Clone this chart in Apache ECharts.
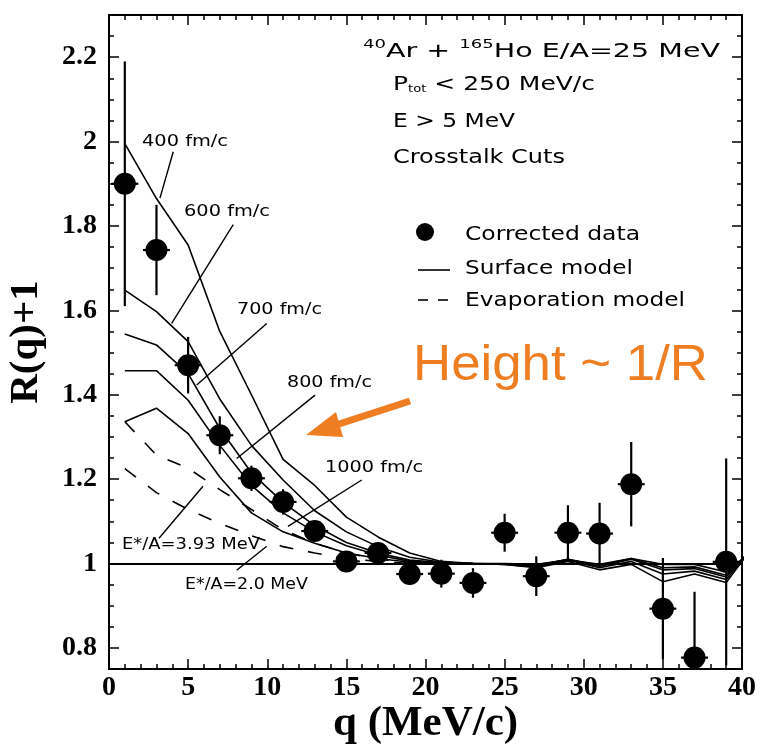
<!DOCTYPE html>
<html><head><meta charset="utf-8">
<script src="https://cdn.jsdelivr.net/npm/echarts@6/dist/echarts.min.js"></script>
<style>html,body{margin:0;padding:0;background:#fff}#c{width:761px;height:746px}</style>
</head><body><div id="c"></div>
<script>
// ---------------- data ----------------
const dataQ   = [1,3,5,7,9,11,13,15,17,19,21,23,25,27,29,31,33,35,37,39];
const dataR   = [1.90,1.743,1.47,1.304,1.202,1.146,1.077,1.005,1.025,0.975,0.976,0.954,1.073,0.970,1.073,1.071,1.188,0.893,0.777,1.004];
const dataErr = [0.29,0.107,0.067,0.045,0.03,0.03,0.02,0.02,0.02,0.025,0.033,0.035,0.045,0.047,0.065,0.073,0.10,0.12,0.156,0.245];
const qHalfBin = 0.85;

const curveQ = [1,3,5,7,9,11,13,15,17,19,21,23,25,27,29,31,33,35,37,39,41];
const surf400  = [1.995,1.865,1.755,1.55,1.40,1.247,1.185,1.11,1.063,1.025,1.005,1.0,0.998,0.99,1.005,0.985,0.998,0.957,0.975,0.955,1.055];
const surf600  = [1.648,1.597,1.526,1.39,1.28,1.198,1.125,1.075,1.04,1.015,1.003,1.0,0.998,0.992,1.008,0.99,1.005,0.975,0.982,0.962,1.05];
const surf700  = [1.544,1.518,1.45,1.32,1.215,1.145,1.09,1.05,1.025,1.008,1.002,1.0,0.999,0.994,1.01,0.993,1.01,0.985,0.988,0.968,1.05];
const surf800  = [1.457,1.457,1.387,1.28,1.185,1.12,1.075,1.042,1.02,1.005,1.001,1.0,0.999,0.996,1.01,0.996,1.012,0.99,0.992,0.972,1.05];
const surf1000 = [1.336,1.368,1.308,1.205,1.12,1.075,1.048,1.025,1.012,1.003,1.0,1.0,1.0,0.998,1.008,0.998,1.012,0.998,0.998,0.98,1.04];

const evapQ   = [1,3,5,7,9,11,13,15,17,19,21];
const evap393 = [1.336,1.257,1.226,1.175,1.128,1.08,1.048,1.025,1.01,1.003,1.0];
const evap20  = [1.225,1.168,1.128,1.095,1.066,1.04,1.025,1.012,1.005,1.0,1.0];

const xTicks = [0,5,10,15,20,25,30,35,40];
const yTicks = [0.8,1,1.2,1.4,1.6,1.8,2,2.2];

// leader lines for curve labels, in data coordinates [q1,r1,q2,r2]
const leaders = [
  [4.06,1.976,3.22,1.866],
  [7.85,1.803,3.96,1.569],
  [9.97,1.569,5.54,1.423],
  [13.02,1.399,8.07,1.249],
  [15.97,1.198,11.31,1.088],
  [5.94,1.183,3.16,1.06],
  [9.97,1.041,8.07,0.984]
];

// ---------------- chart ----------------
const SERIF = "'Liberation Serif','Times New Roman',serif";
const SANS = "'DejaVu Sans',sans-serif";
const chart = echarts.init(document.getElementById('c'), null, {renderer:'canvas'});

const mctx = document.createElement('canvas').getContext('2d');
function mw(t, size, fam, weight){ mctx.font = (weight||'normal')+' '+size+'px '+fam; return mctx.measureText(t).width; }

function textRuns(runs, x, y, targetW, fam, color){
  fam = fam || SANS; color = color || '#000';
  let tot = 0; runs.forEach(r=>{ r.w = mw(r.t, r.size, fam); tot += r.w; });
  const s = targetW / tot;
  const out = []; let cx = x;
  runs.forEach(r=>{
    out.push({type:'text', x:cx, y:y + (r.dy||0), scaleX:s, silent:true, z:50,
      style:{text:r.t, fontSize:r.size, fontFamily:fam, fill:color, textAlign:'left', textVerticalAlign:'middle', verticalAlign:'middle'}});
    cx += r.w * s;
  });
  return out;
}
function txt(t, x, y, w, size, fam, color){ return textRuns([{t:t,size:size}], x, y, w, fam, color); }

const pair = (qs, vs) => qs.map((q,i)=>[q, vs[i]]);
const solid = {color:'#000', width:1.6, type:'solid'};
const dashed = {color:'#000', width:1.6, type:[14,15]};

function lineSeries(name, qs, vs, ls){
  return {name:name, type:'line', data:pair(qs, vs), symbol:'none', showSymbol:false, clip:true,
    lineStyle:ls, itemStyle:{color:'#000'}, z:3, silent:true};
}

const axisFont = {fontFamily:SERIF, fontWeight:'bold', fontSize:28, color:'#000'};

const option = {
  animation:false,
  backgroundColor:'#fff',
  grid:{left:109, right:19, top:15, bottom:77, outerBoundsMode:'none', containLabel:false},
  xAxis:[
    {type:'value', position:'bottom', min:0, max:40, interval:5,
     name:'q (MeV/c)', nameLocation:'middle', nameGap:33, nameMoveOverlap:false,
     nameTextStyle:{fontFamily:SERIF, fontWeight:'bold', fontSize:43, color:'#000'},
     axisLine:{show:true, lineStyle:{color:'#000', width:2}},
     axisTick:{show:true, inside:true, length:10, lineStyle:{color:'#000', width:1.5}},
     minorTick:{show:true, splitNumber:5, length:5, lineStyle:{color:'#000', width:1.5}},
     axisLabel:Object.assign({margin:5, showMinLabel:true, showMaxLabel:true}, axisFont),
     splitLine:{show:false}, minorSplitLine:{show:false}},
    {type:'value', position:'top', min:0, max:40, interval:5,
     axisLine:{show:true, lineStyle:{color:'#000', width:2}},
     axisTick:{show:true, inside:true, length:10, lineStyle:{color:'#000', width:1.5}},
     minorTick:{show:true, splitNumber:5, length:5, lineStyle:{color:'#000', width:1.5}},
     axisLabel:{show:false}, splitLine:{show:false}}
  ],
  yAxis:[
    {type:'value', position:'left', min:0.75, max:2.3,
     name:'R(q)+1', nameLocation:'middle', nameGap:62, nameRotate:90, nameMoveOverlap:false,
     nameTextStyle:{fontFamily:SERIF, fontWeight:'bold', fontSize:41, color:'#000'},
     axisLine:{show:true, lineStyle:{color:'#000', width:2}},
     axisTick:{show:true, inside:true, length:10, customValues:yTicks, lineStyle:{color:'#000', width:1.5}},
     axisLabel:Object.assign({margin:12, customValues:yTicks}, axisFont),
     splitLine:{show:false}},
    {type:'value', position:'left', min:0.75, max:2.3, interval:0.05,
     axisLine:{show:false}, axisTick:{show:true, inside:true, length:5, lineStyle:{color:'#000', width:1.5}},
     axisLabel:{show:false}, splitLine:{show:false}},
    {type:'value', position:'right', min:0.75, max:2.3,
     axisLine:{show:true, lineStyle:{color:'#000', width:2}},
     axisTick:{show:true, inside:true, length:10, customValues:yTicks, lineStyle:{color:'#000', width:1.5}},
     axisLabel:{show:false}, splitLine:{show:false}},
    {type:'value', position:'right', min:0.75, max:2.3, interval:0.05,
     axisLine:{show:false}, axisTick:{show:true, inside:true, length:5, lineStyle:{color:'#000', width:1.5}},
     axisLabel:{show:false}, splitLine:{show:false}}
  ],
  series:[
    lineSeries('400 fm/c', curveQ, surf400, solid),
    lineSeries('600 fm/c', curveQ, surf600, solid),
    lineSeries('700 fm/c', curveQ, surf700, solid),
    lineSeries('800 fm/c', curveQ, surf800, solid),
    lineSeries('1000 fm/c', curveQ, surf1000, solid),
    lineSeries('E*/A=3.93 MeV', evapQ, evap393, dashed),
    lineSeries('E*/A=2.0 MeV', evapQ, evap20, dashed),
    {name:'ref', type:'line', data:[], silent:true,
     markLine:{silent:true, symbol:['none','none'], label:{show:false},
       lineStyle:{color:'#000', width:2, type:'solid'}, data:[{yAxis:1}]}},
    {name:'leaders', type:'line', data:[], silent:true,
     markLine:{silent:true, symbol:['none','none'], label:{show:false},
       lineStyle:{color:'#000', width:1.4, type:'solid'},
       data:leaders.map(l=>[{coord:[l[0],l[1]]},{coord:[l[2],l[3]]}])}},
    {name:'err', type:'custom', clip:true, z:5, silent:true,
     data:dataQ.map((q,i)=>[q, dataR[i], dataErr[i], qHalfBin]),
     renderItem:function(params, api){
       const q=api.value(0), r=api.value(1), e=api.value(2), h=api.value(3);
       const t=api.coord([q,r+e]), b=api.coord([q,r-e]), l=api.coord([q-h,r]), rr=api.coord([q+h,r]);
       return {type:'group', children:[
         {type:'line', shape:{x1:t[0],y1:t[1],x2:b[0],y2:b[1]}, style:{stroke:'#000', lineWidth:2.2}},
         {type:'line', shape:{x1:l[0],y1:l[1],x2:rr[0],y2:rr[1]}, style:{stroke:'#000', lineWidth:2.2}}
       ]};
     }},
    {name:'Corrected data', type:'scatter', data:pair(dataQ, dataR), symbol:'circle', symbolSize:22,
     itemStyle:{color:'#000', opacity:1}, z:6, silent:true, clip:true}
  ],
  graphic:[]
};

chart.setOption(option);

const g = [];
g.push(...textRuns([{t:'40',size:12,dy:-7},{t:'Ar + ',size:19},{t:'165',size:12,dy:-7},{t:'Ho E/A=25 MeV',size:19}], 363, 52, 357));
g.push(...textRuns([{t:'P',size:19},{t:'tot',size:10,dy:4},{t:' < 250 MeV/c',size:19}], 393, 85, 202));
g.push(...txt('E > 5 MeV', 393, 122, 122, 19));
g.push(...txt('Crosstalk Cuts', 393, 158, 172, 19));
g.push({type:'circle', shape:{cx:425, cy:232, r:9}, style:{fill:'#000'}, silent:true, z:50});
g.push({type:'line', shape:{x1:418,y1:270,x2:450,y2:270}, style:{stroke:'#000', lineWidth:1.6}, silent:true, z:50});
g.push({type:'line', shape:{x1:418,y1:300,x2:428,y2:300}, style:{stroke:'#000', lineWidth:1.6}, silent:true, z:50});
g.push({type:'line', shape:{x1:438,y1:300,x2:448,y2:300}, style:{stroke:'#000', lineWidth:1.6}, silent:true, z:50});
g.push(...txt('Corrected data', 465, 235, 175, 19));
g.push(...txt('Surface model', 465, 269, 168, 19));
g.push(...txt('Evaporation model', 465, 301, 220, 19));
g.push(...txt('400 fm/c', 142, 142, 86, 15));
g.push(...txt('600 fm/c', 184, 212, 86, 15));
g.push(...txt('700 fm/c', 237, 310, 85, 15));
g.push(...txt('800 fm/c', 287, 383, 85, 15));
g.push(...txt('1000 fm/c', 325, 468, 98, 15));
g.push(...txt('E*/A=3.93 MeV', 122, 545, 138, 15));
g.push(...txt('E*/A=2.0 MeV', 185, 585, 123, 15));
const ORANGE = '#EF7D22';
g.push(...txt('Height ~ 1/R', 413, 366, 295, 50, "'Liberation Sans',Arial,sans-serif", ORANGE));
g.push({type:'line', shape:{x1:410,y1:401,x2:336,y2:425}, style:{stroke:ORANGE, lineWidth:7}, silent:true, z:50});
g.push({type:'polygon', shape:{points:[[306,435],[336,412],[343,437]]}, style:{fill:ORANGE}, silent:true, z:50});

chart.setOption({graphic:g});
</script>
</body></html>
